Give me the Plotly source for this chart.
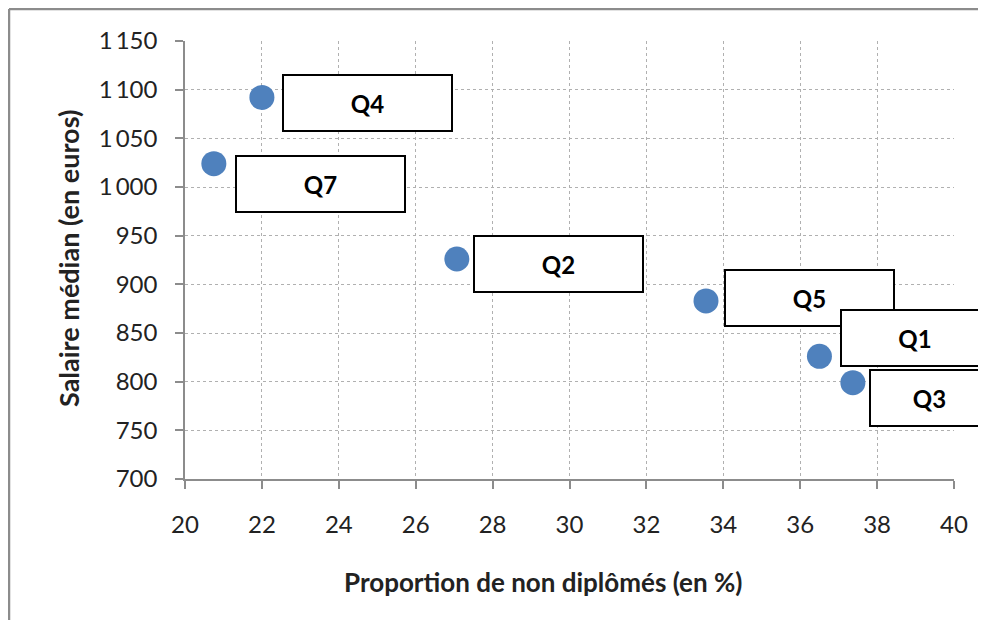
import plotly.graph_objects as go

# Data
labels = ["Q4", "Q7", "Q2", "Q5", "Q1", "Q3"]
non_diplomes = [22.0, 20.75, 27.07, 33.55, 36.5, 37.37]
salaire_median = [1092, 1024, 926, 883, 826, 799]

x_ticks = [20, 22, 24, 26, 28, 30, 32, 34, 36, 38, 40]
y_ticks = [700, 750, 800, 850, 900, 950, 1000, 1050, 1100, 1150]
y_tick_text = ["700", "750", "800", "850", "900", "950", "1\u2009000", "1\u2009050", "1\u2009100", "1\u2009150"]

# Label box placement (pixel offsets from the point) and widths
label_style = {
    "Q4": dict(xshift=20, yshift=-6, width=167),
    "Q7": dict(xshift=21, yshift=-20, width=167),
    "Q2": dict(xshift=16, yshift=-5, width=167),
    "Q5": dict(xshift=18, yshift=3, width=167),
    "Q1": dict(xshift=21, yshift=18, width=146),
    "Q3": dict(xshift=16, yshift=-15, width=117),
}

FONT = "Lato, 'Open Sans', sans-serif"
BLUE = "#4F81BD"

# figure sits at (8,8) in the page
W, H = 978, 612
L, R, T, B = 177, 946, 33, 471

fig = go.Figure()
fig.add_trace(go.Scatter(
    x=non_diplomes, y=salaire_median, mode="markers",
    marker=dict(size=25, color=BLUE),
    hoverinfo="text", text=labels, showlegend=False,
))

for lab, xv, yv in zip(labels, non_diplomes, salaire_median):
    st = label_style[lab]
    fig.add_annotation(
        x=xv, y=yv, xref="x", yref="y", text="<b>%s</b>" % lab,
        showarrow=False, xanchor="left", yanchor="middle",
        xshift=st["xshift"], yshift=st["yshift"],
        width=st["width"], height=54, align="center", valign="middle",
        bgcolor="white", bordercolor="black", borderwidth=2, borderpad=0,
        font=dict(family=FONT, size=24, color="black"),
    )

pw, ph = R - L, B - T
def px(xp): return (xp - L) / pw
def py(yp): return (B - yp) / ph

# axis titles
fig.add_annotation(
    xref="paper", yref="paper", x=px(535), y=py(574),
    text="<b>Proportion de non diplômés (en %)</b>", showarrow=False,
    xanchor="center", yanchor="middle",
    font=dict(family=FONT, size=26, color="#222222"),
)
fig.add_annotation(
    xref="paper", yref="paper", x=px(60), y=py(251),
    text="<b>Salaire médian (en euros)</b>", showarrow=False, textangle=-90,
    xanchor="center", yanchor="middle",
    font=dict(family=FONT, size=27, color="#222222"),
)

# outer chart frame (gray)
fig.add_shape(type="line", xref="paper", yref="paper",
              x0=px(1), x1=px(W), y0=py(1), y1=py(1),
              line=dict(color="#8c8c8c", width=2.5))
fig.add_shape(type="line", xref="paper", yref="paper",
              x0=px(1), x1=px(1), y0=py(1), y1=py(H),
              line=dict(color="#8c8c8c", width=2.5))

axis_common = dict(
    showline=True, linecolor="#8c8c8c", linewidth=1.5,
    ticks="outside", ticklen=8, tickcolor="#8c8c8c", tickwidth=1.5,
    showgrid=True, gridcolor="#b0b0b0", griddash="dot", gridwidth=1,
    zeroline=False, tickfont=dict(family=FONT, size=24, color="#222222"),
)

fig.update_xaxes(
    range=[20, 40], tickvals=x_ticks, ticktext=[str(v) for v in x_ticks],
    ticklabelstandoff=15, **axis_common,
)
fig.update_yaxes(
    range=[700, 1150], tickvals=y_ticks, ticktext=y_tick_text,
    ticklabelstandoff=13, **axis_common,
)

fig.update_layout(
    width=W, height=H,
    margin=dict(l=L, r=W - R, t=T, b=H - B, autoexpand=False),
    paper_bgcolor="white", plot_bgcolor="white",
    font=dict(family=FONT),
)

fig.write_html("out.html")
